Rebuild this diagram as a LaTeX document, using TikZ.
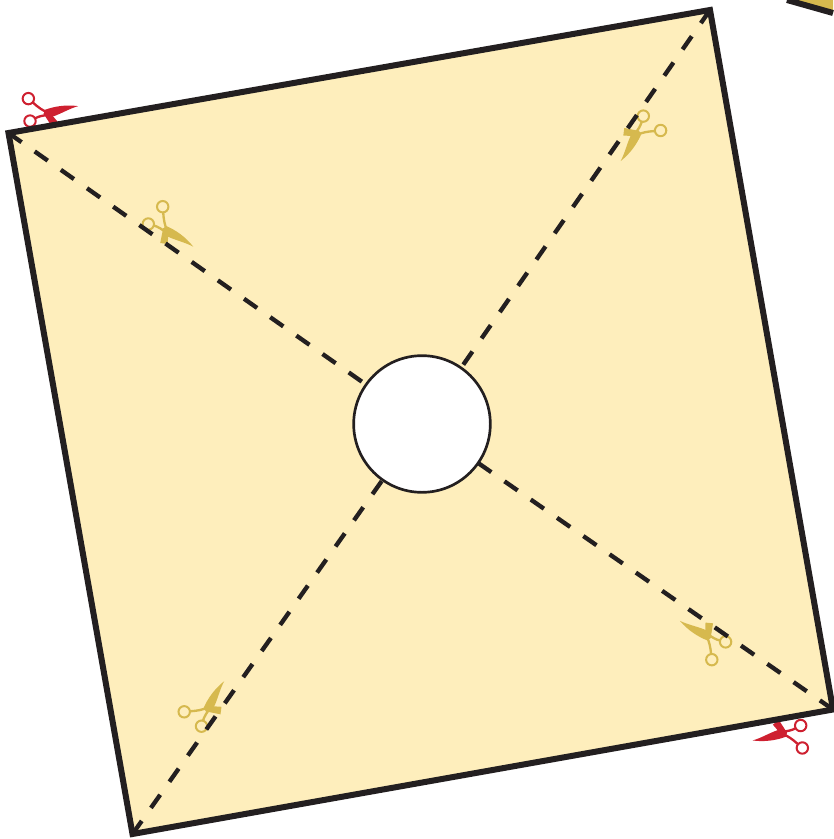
\documentclass[tikz,border=0pt]{standalone}
\usepackage{xcolor}
\definecolor{paper}{HTML}{FEEEBC}
\definecolor{ink}{HTML}{231F20}
\definecolor{goldcut}{HTML}{D6B94E}
\definecolor{redcut}{HTML}{CE2030}

\begin{document}
\begin{tikzpicture}[
    x=0.03cm, y=-0.03cm,
    edge/.style={draw=ink, line width=0.18cm, line join=miter},
    cut/.style={draw=ink, line width=0.13cm, dash pattern=on 0.48cm off 0.48cm},
    hole/.style={circle, draw=ink, fill=white, line width=0.08cm, minimum size=4.1cm, inner sep=0pt, outer sep=0pt},
    pics/scissors/.style={code={
        \fill[#1] (0.5,-4) .. controls (10,0) and (20,7) .. (27.6,16.7)
            .. controls (20,12.5) and (9,10) .. (2,6.5) -- (-3,-1) -- cycle;
        \fill[#1] (-2.5,-2) -- (3,-2) -- (2,14) -- (-5.5,13) -- cycle;
        \draw[#1, line width=0.07cm] (-2.5,-17.5) .. controls (-2,-10) and (-1,-5) .. (1.5,1);
        \draw[#1, line width=0.07cm] (-11.8,-4.4) .. controls (-8,-3.5) and (-4,-1) .. (1,3);
        \draw[#1, line width=0.06cm] (-3,-23.3) circle[radius=5.7];
        \draw[#1, line width=0.06cm] (-17.4,-6) circle[radius=5.7];
    }}
]
\useasboundingbox (0,0) rectangle (833,839);

\coordinate (tl) at (8.5,133);
\coordinate (tr) at (710,10);
\coordinate (br) at (833,709.5);
\coordinate (bl) at (132.5,834);

% next sheet, top right
\coordinate (nexta) at (787,0);
\coordinate (nextb) at (833,13);
\coordinate (nextc) at (833,0);
\fill[goldcut] (nexta) -- (nextb) -- (nextc) -- cycle;
\draw[edge] (nexta) -- (nextb);

% red ones lie under the sheet
\pic at (46.7,113.3) [rotate=44] {scissors=redcut};
\pic at (784,733.3) [rotate=224] {scissors=redcut};

\fill[paper] (tl) -- (tr) -- (br) -- (bl) -- cycle;

\pic at (165.7,230) {scissors=goldcut};
\pic at (637.3,133.5) [rotate=-90] {scissors=goldcut};
\pic at (708,636.5) [rotate=182] {scissors=goldcut};
\pic at (207.5,708.8) [rotate=90] {scissors=goldcut};

\node[hole] (centre) at (422,424) {};

\draw[cut] (tl) -- (centre);
\draw[cut] (tr) -- (centre);
\draw[cut] (br) -- (centre);
\draw[cut] (bl) -- (centre);

\draw[edge] (tl) -- (tr) -- (br) -- (bl) -- cycle;
\end{tikzpicture}
\end{document}
